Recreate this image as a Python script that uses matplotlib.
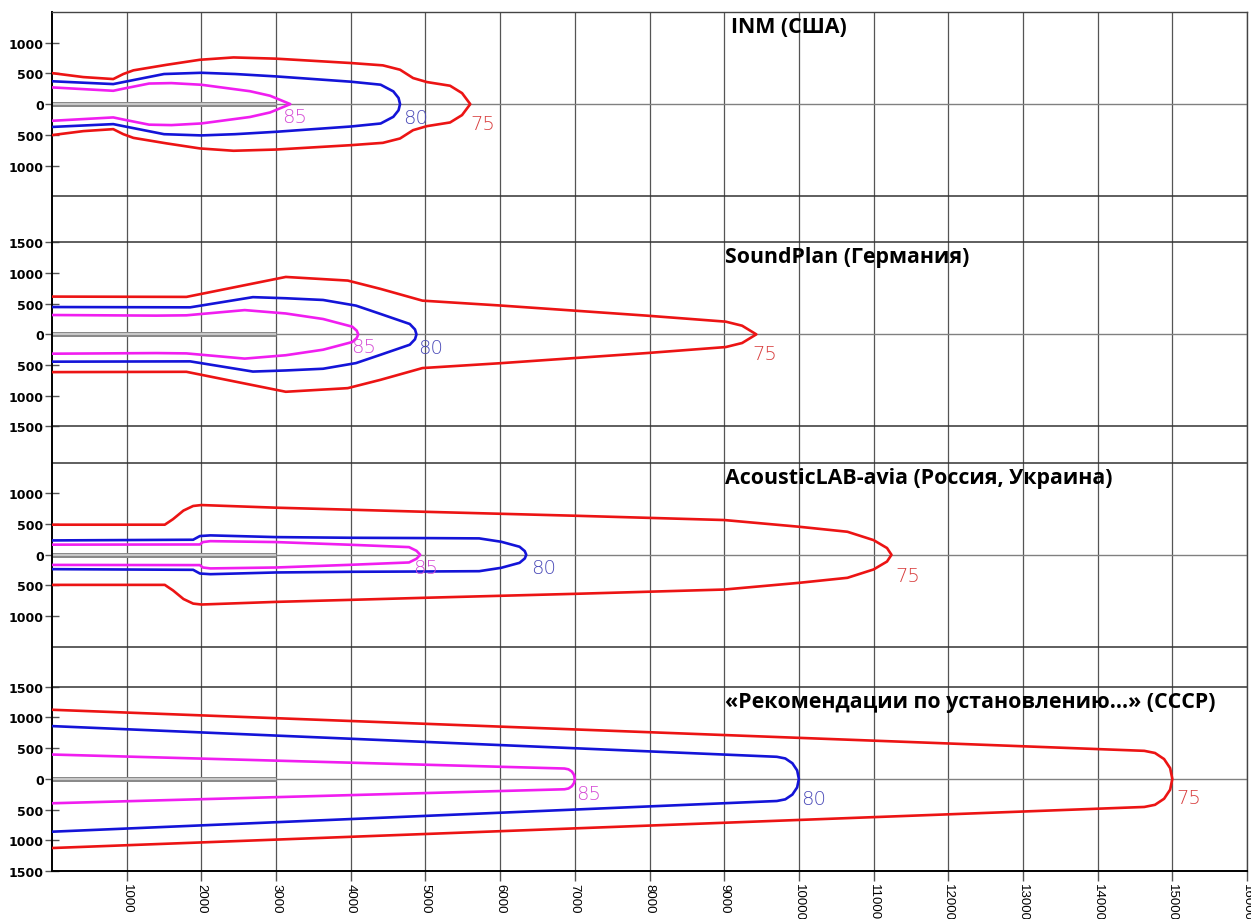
import matplotlib.pyplot as plt

plt.rcParams['font.family'] = ['DejaVu Sans']

titles = ['INM (США)', 'SoundPlan (Германия)', 'AcousticLAB-avia (Россия, Украина)',
          '«Рекомендации по установлению...» (СССР)']
levels = ['85', '80', '75']

# upper half of every contour: distance from runway start (m), half-width (m)
# INM
inm_85_x = [0, 820, 950, 1300, 1600, 2000, 2650, 2920, 3190]
inm_85_y = [272, 217, 250, 335, 342, 315, 210, 136, 0]
inm_80_x = [0, 820, 960, 1500, 2000, 2450, 3000, 4000, 4400, 4570, 4640, 4660]
inm_80_y = [372, 326, 360, 490, 510, 490, 451, 365, 316, 207, 100, 0]
inm_75_x = [0, 420, 820, 955, 1090, 1535, 1980, 2430, 3000, 4000, 4430, 4660, 4835, 5020, 5330, 5490, 5600]
inm_75_y = [505, 440, 408, 490, 550, 640, 722, 760, 740, 669, 631, 560, 424, 359, 299, 179, 0]

# SoundPlan
sp_85_x = [0, 1400, 1800, 2580, 3130, 3630, 4020, 4080, 4100]
sp_85_y = [315, 305, 310, 395, 340, 250, 125, 60, 0]
sp_80_x = [0, 1850, 2690, 3130, 3630, 4070, 4400, 4790, 4860, 4880]
sp_80_y = [445, 440, 606, 588, 560, 468, 332, 169, 80, 0]
sp_75_x = [0, 1800, 3130, 3960, 4400, 4960, 6000, 7960, 9020, 9240, 9430]
sp_75_y = [615, 610, 935, 876, 740, 549, 470, 305, 207, 141, 0]

# AcousticLAB-avia
al_85_x = [0, 1980, 2020, 2120, 3000, 4000, 4780, 4880, 4930]
al_85_y = [165, 168, 207, 222, 207, 163, 125, 65, 0]
al_80_x = [0, 1890, 1980, 2120, 3000, 4000, 5000, 5720, 6015, 6260, 6330, 6350]
al_80_y = [234, 245, 305, 316, 288, 277, 272, 267, 212, 131, 60, 0]
al_75_x = [0, 1510, 1620, 1760, 1890, 2000, 3000, 4000, 5000, 7000, 9000, 10000, 10650, 11000, 11180, 11240]
al_75_y = [490, 490, 580, 720, 795, 810, 767, 734, 700, 636, 566, 457, 375, 239, 110, 0]

# USSR recommendations
su_85_x = [0, 6862, 6915, 6960, 6990, 7000]
su_85_y = [397, 169, 156, 120, 65, 0]
su_80_x = [0, 9705, 9818, 9913, 9977, 10000]
su_80_y = [860, 360, 333, 255, 138, 0]
su_75_x = [0, 14625, 14768, 14890, 14971, 15000]
su_75_y = [1126, 457, 422, 323, 175, 0]

panel_ticks = [[1000, 500, 0, -500, -1000],
               [1500, 1000, 500, 0, -500, -1000, -1500],
               [1000, 500, 0, -500, -1000],
               [1500, 1000, 500, 0, -500, -1000, -1500]]
x_ticks = list(range(1000, 16001, 1000))
runway_end = 3000

contours = [
    [(inm_85_x, inm_85_y), (inm_80_x, inm_80_y), (inm_75_x, inm_75_y)],
    [(sp_85_x, sp_85_y), (sp_80_x, sp_80_y), (sp_75_x, sp_75_y)],
    [(al_85_x, al_85_y), (al_80_x, al_80_y), (al_75_x, al_75_y)],
    [(su_85_x, su_85_y), (su_80_x, su_80_y), (su_75_x, su_75_y)],
]

# vertical position of each panel's centre line in the shared axes
offsets = [12490, 8740, 5150, 1500]
line_colors = ['#f01ef0', '#1414d8', '#ec1414']
text_colors = ['#d54ad5', '#4a4ab8', '#d83c3c']
# label offsets from contour tip, in pixels (right, down)
label_shift = [[(-8, 3), (3, 4), (0, 10)],
               [(-7, 3), (2, 4), (-4, 10)],
               [(-7, 3), (5, 3), (4, 11)],
               [(1, 5), (2, 10), (4, 9)]]

fig = plt.figure(figsize=(12.51, 9.2), dpi=100)
ax = fig.add_axes([52 / 1251, 48 / 920, 1195 / 1251, 859 / 920])
ax.set_xlim(0, 16000)
ax.set_ylim(0, 13990)

for p, off in enumerate(offsets):
    # separators and centre line
    ax.axhline(off, color='#808080', lw=1, zorder=1)
    for s in (-1500, 1500):
        if 0 < off + s < 13990:
            ax.axhline(off + s, color='#333333', lw=1.1, zorder=1)
    ax.plot([0, runway_end], [off, off], color='#8a8a8a', lw=3.6, zorder=2, solid_capstyle='butt')
    ax.plot([0, runway_end], [off, off], color='#dcdcdc', lw=1.1, zorder=2, solid_capstyle='butt')

    for k, (xs, ys) in enumerate(contours[p]):
        cx = xs + xs[::-1][1:]
        cy = [off + y for y in ys] + [off - y for y in ys[::-1][1:]]
        ax.plot(cx, cy, color=line_colors[k], lw=1.9, zorder=3, solid_joinstyle='round')
        dx, dy = label_shift[p][k]
        ax.annotate(levels[k], (xs[-1], off), xytext=(dx, -dy), textcoords='offset pixels',
                    ha='left', va='top', fontsize=14, color=text_colors[k],
                    fontweight='light', zorder=4)

    ax.text(9090 if p == 0 else 9010, off + 1260, titles[p], family=['Open Sans', 'DejaVu Sans'],
            fontweight='bold', fontsize=15.4, va='center', ha='left', zorder=4)

yt, yl = [], []
for off, ticks in zip(offsets, panel_ticks):
    for t in ticks:
        yt.append(off + t)
        yl.append(str(abs(t)))
ax.set_yticks(yt)
ax.set_yticklabels(yl, fontweight='bold', fontsize=9)
ax.set_xticks(x_ticks)
ax.set_xticklabels([str(v) for v in x_ticks], rotation=-90, fontsize=9.5,
                   family=['Liberation Sans', 'DejaVu Sans'])

ax.tick_params(axis='y', direction='inout', length=10, width=1, color='#555555', pad=1)
ax.tick_params(axis='x', direction='out', length=7, width=1, color='#555555', pad=2)
ax.xaxis.grid(True, color='#555555', lw=0.9)
ax.set_axisbelow(True)

for side in ('left', 'bottom'):
    ax.spines[side].set_color('black')
    ax.spines[side].set_linewidth(1.4)
for side in ('top', 'right'):
    ax.spines[side].set_color('#444444')
    ax.spines[side].set_linewidth(1)

fig.savefig('out.png', dpi=100)
